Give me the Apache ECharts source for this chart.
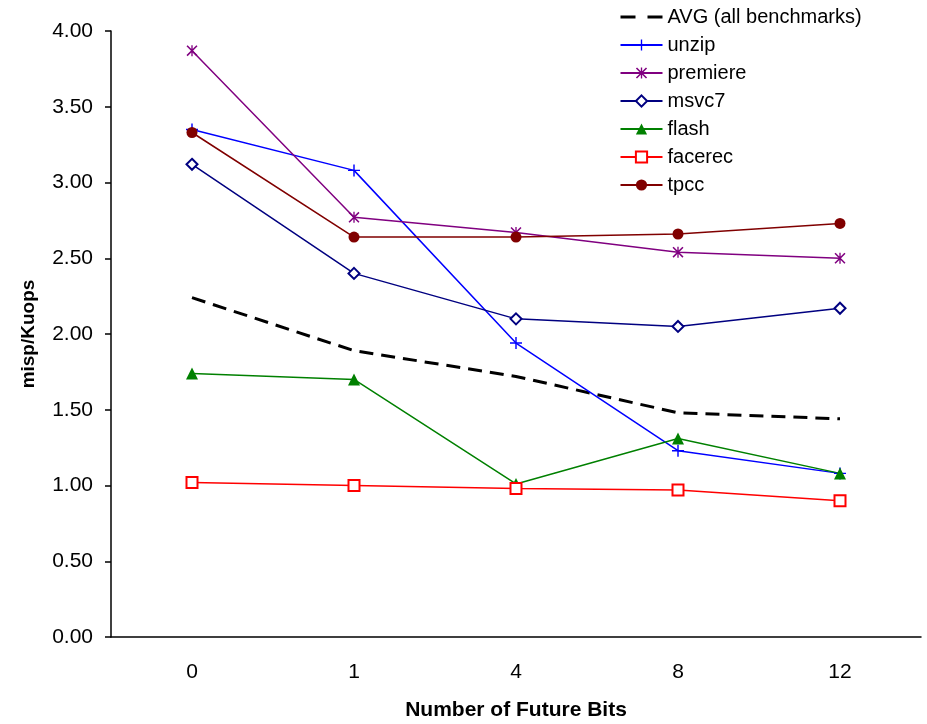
<!DOCTYPE html>
<html>
<head>
<meta charset="utf-8">
<script src="https://cdn.jsdelivr.net/npm/echarts@6/dist/echarts.min.js"></script>
<style>
  html, body { margin: 0; padding: 0; background: #fff; }
  #futureBits { width: 927px; height: 724px; }
</style>
</head>
<body>
<div id="futureBits"></div>
<script>
// 数据
var bits = ['0', '1', '4', '8', '12'];
var avgAll = [2.24, 1.89, 1.72, 1.48, 1.44];
var unzip = [3.35, 3.08, 1.94, 1.23, 1.08];
var premiere = [3.87, 2.77, 2.67, 2.54, 2.50];
var msvc7 = [3.12, 2.40, 2.10, 2.05, 2.17];
var flash = [1.74, 1.70, 1.01, 1.31, 1.08];
var facerec = [1.02, 1.00, 0.98, 0.97, 0.90];
var tpcc = [3.33, 2.64, 2.64, 2.66, 2.73];

var plusPath = 'path://M4.4,0H5.6V10H4.4Z M0,4.4H10V5.6H0Z';
var starPath = 'path://M0,1L1,0L10,9L9,10Z M9,0L10,1L1,10L0,9Z M4.4,0H5.6V10H4.4Z';
var font = '"Liberation Sans", Arial, sans-serif';

function line(name, data, color, symbol, size) {
    return {
        name: name,
        type: 'line',
        data: data,
        color: color,
        symbol: symbol,
        symbolSize: size,
        showAllSymbol: true,
        lineStyle: { color: color, width: 1.5 },
        itemStyle: { color: color, borderWidth: 1.5 },
        emphasis: { disabled: true }
    };
}

var myChart = echarts.init(document.getElementById('futureBits'));
var option = {
    animation: false,
    grid: {
        left: 111,
        right: 6,
        top: 31,
        bottom: 87,
        outerBoundsMode: 'none'
    },
    legend: {
        orient: 'vertical',
        left: 614,
        top: 2,
        itemWidth: 42,
        itemHeight: 14,
        itemGap: 8,
        textStyle: { color: '#000', fontSize: 20, lineHeight: 20, fontFamily: font },
        data: [
            {
                name: 'AVG (all benchmarks)',
                itemStyle: { color: 'transparent', borderColor: 'transparent' },
                lineStyle: { color: '#000', width: 3, type: [15, 12] }
            },
            'unzip', 'premiere', 'msvc7', 'flash', 'facerec', 'tpcc'
        ]
    },
    xAxis: {
        type: 'category',
        data: bits,
        name: 'Number of Future Bits',
        nameLocation: 'middle',
        nameGap: 63,
        nameTextStyle: { color: '#000', fontSize: 21, fontWeight: 'bold', fontFamily: font },
        axisLine: { lineStyle: { color: '#000', width: 1.5 } },
        axisTick: { length: 10, lineStyle: { color: '#000', width: 1.5 } },
        axisLabel: { color: '#000', fontSize: 21, margin: 25, fontFamily: font },
        splitLine: { show: false }
    },
    yAxis: {
        type: 'value',
        min: 0,
        max: 4,
        interval: 0.5,
        name: 'misp/Kuops',
        nameLocation: 'middle',
        nameRotate: 90,
        nameGap: 73,
        nameTextStyle: { color: '#000', fontSize: 19, fontWeight: 'bold', fontFamily: font },
        axisLine: { show: true, lineStyle: { color: '#000', width: 1.5 } },
        axisTick: { show: true, length: 6, lineStyle: { color: '#000', width: 1.5 } },
        axisLabel: {
            color: '#000',
            fontSize: 21,
            margin: 18,
            fontFamily: font,
            formatter: function (v) { return v.toFixed(2); }
        },
        splitLine: { show: false }
    },
    series: [
        {
            name: 'AVG (all benchmarks)',
            type: 'line',
            data: avgAll,
            color: '#000',
            symbol: 'none',
            lineStyle: { color: '#000', width: 3, type: [14, 8] },
            emphasis: { disabled: true }
        },
        line('unzip', unzip, '#0000ff', plusPath, 12),
        line('premiere', premiere, '#800080', starPath, 11),
        line('msvc7', msvc7, '#000080', 'emptyDiamond', 11),
        line('flash', flash, '#008000', 'triangle', 12),
        line('facerec', facerec, '#ff0000', 'emptyRect', 11),
        line('tpcc', tpcc, '#800000', 'circle', 11)
    ]
};

myChart.setOption(option);
</script>
</body>
</html>
